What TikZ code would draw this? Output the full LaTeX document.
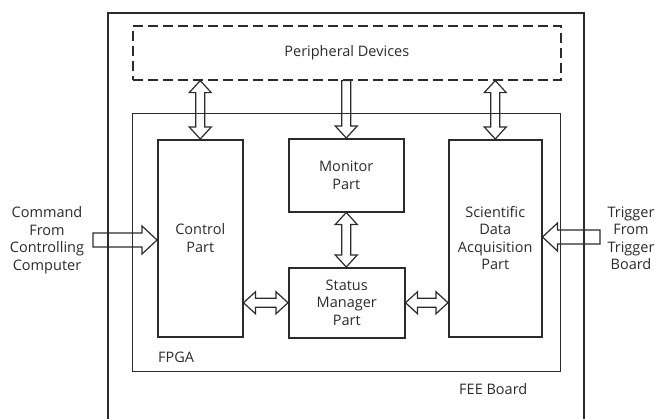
\documentclass[tikz,border=0pt]{standalone}
\usepackage{fontspec}
\setmainfont{Open Sans}
\usetikzlibrary{calc}

\definecolor{ink}{HTML}{2B2B2B}

% hollow block arrows, drawn along the line from #1 to #2
\def\asw{4.5pt}% half width of the shaft
\def\ahw{11pt}% half width of the head
\def\ahl{12pt}% length of the head
\newcommand\blockarrow[2]{%
  \draw[arrowline] let \p1=(#1), \p2=(#2),
      \n1={atan2(\y2-\y1,\x2-\x1)}, \n2={veclen(\x2-\x1,\y2-\y1)} in
    {[shift={(\p1)}, rotate=\n1]
      (0pt,\asw) -- ({\n2*1pt-\ahl},\asw) -- ({\n2*1pt-\ahl},\ahw) -- ({\n2*1pt},0pt)
      -- ({\n2*1pt-\ahl},-\ahw) -- ({\n2*1pt-\ahl},-\asw) -- (0pt,-\asw) -- cycle};}
\newcommand\twinarrow[2]{%
  \draw[arrowline] let \p1=(#1), \p2=(#2),
      \n1={atan2(\y2-\y1,\x2-\x1)}, \n2={veclen(\x2-\x1,\y2-\y1)} in
    {[shift={(\p1)}, rotate=\n1]
      (0pt,0pt) -- (\ahl,\ahw) -- (\ahl,\asw) -- ({\n2*1pt-\ahl},\asw) -- ({\n2*1pt-\ahl},\ahw)
      -- ({\n2*1pt},0pt) -- ({\n2*1pt-\ahl},-\ahw) -- ({\n2*1pt-\ahl},-\asw)
      -- (\ahl,-\asw) -- (\ahl,-\ahw) -- cycle};}

\begin{document}
\begin{tikzpicture}[x=1pt, y=-1pt,
  every node/.style={font=\fontsize{14.5pt}{17.5pt}\selectfont, text=ink},
  box/.style={draw=ink, line width=1.5pt, inner sep=0pt, anchor=north west, align=center},
  frame/.style={draw=ink, line width=1.3pt, inner sep=0pt, anchor=north west},
  arrowline/.style={draw=ink, line width=1.2pt, line join=miter},
  label/.style={inner sep=0pt, align=center}]
  \useasboundingbox (0,0) rectangle (660,418);

  % boards and the peripheral block
  \begin{scope}
    \clip (0,0) rectangle (660,418);
    \node[frame, line width=1.6pt, minimum width=476pt, minimum height=428pt] (fee) at (107,12) {};
  \end{scope}
  \node[frame, dash pattern=on 10pt off 5pt, line width=1.6pt,
        minimum width=428pt, minimum height=54pt] (periph) at (132,25) {};
  \node[label] (periphtext) at (periph.center) {Peripheral Devices};
  \node[frame, minimum width=428pt, minimum height=258pt] (fpga) at (132,113) {};
  \node[label, anchor=west] (fpgalabel) at (158,357) {FPGA};
  \node[label, anchor=west] (feelabel) at (459,389) {FEE Board};

  % functional parts inside the FPGA
  \node[box, minimum width=85pt, minimum height=197pt] (ctrl) at (157,139) {};
  \node[label] at (ctrl.center) {Control\\Part};
  \node[box, minimum width=115pt, minimum height=73pt] (mon) at (288,138) {};
  \node[label] at (mon.center) {Monitor\\Part};
  \node[box, minimum width=116pt, minimum height=70pt] (stat) at (288,267) {};
  \node[label] at (stat.center) {Status\\Manager\\Part};
  \node[box, minimum width=93pt, minimum height=197pt] (sci) at (448,139) {};
  \node[label] at (sci.center) {Scientific\\Data\\Acquisition\\Part};

  % external inputs
  \node[label] (cmd) at (47,240) {Command\\From\\Controlling\\Computer};
  \node[label] (trig) at (631,238) {Trigger\\From\\Trigger\\Board};
  \coordinate (cmdtail) at (93,240);
  \coordinate (trigtail) at (600,237);

  % data paths
  \twinarrow{ctrl.north |- periph.south}{ctrl.north}
  \blockarrow{mon.north |- periph.south}{mon.north}
  \twinarrow{sci.north |- periph.south}{sci.north}
  \twinarrow{mon.south}{mon.south |- stat.north}
  \twinarrow{stat.west -| ctrl.east}{stat.west}
  \twinarrow{stat.east}{stat.east -| sci.west}
  {\def\asw{7pt}\def\ahw{14pt}\def\ahl{15pt}%
   \blockarrow{cmdtail}{cmdtail -| ctrl.west}
   \blockarrow{trigtail}{trigtail -| sci.east}}
\end{tikzpicture}
\end{document}
